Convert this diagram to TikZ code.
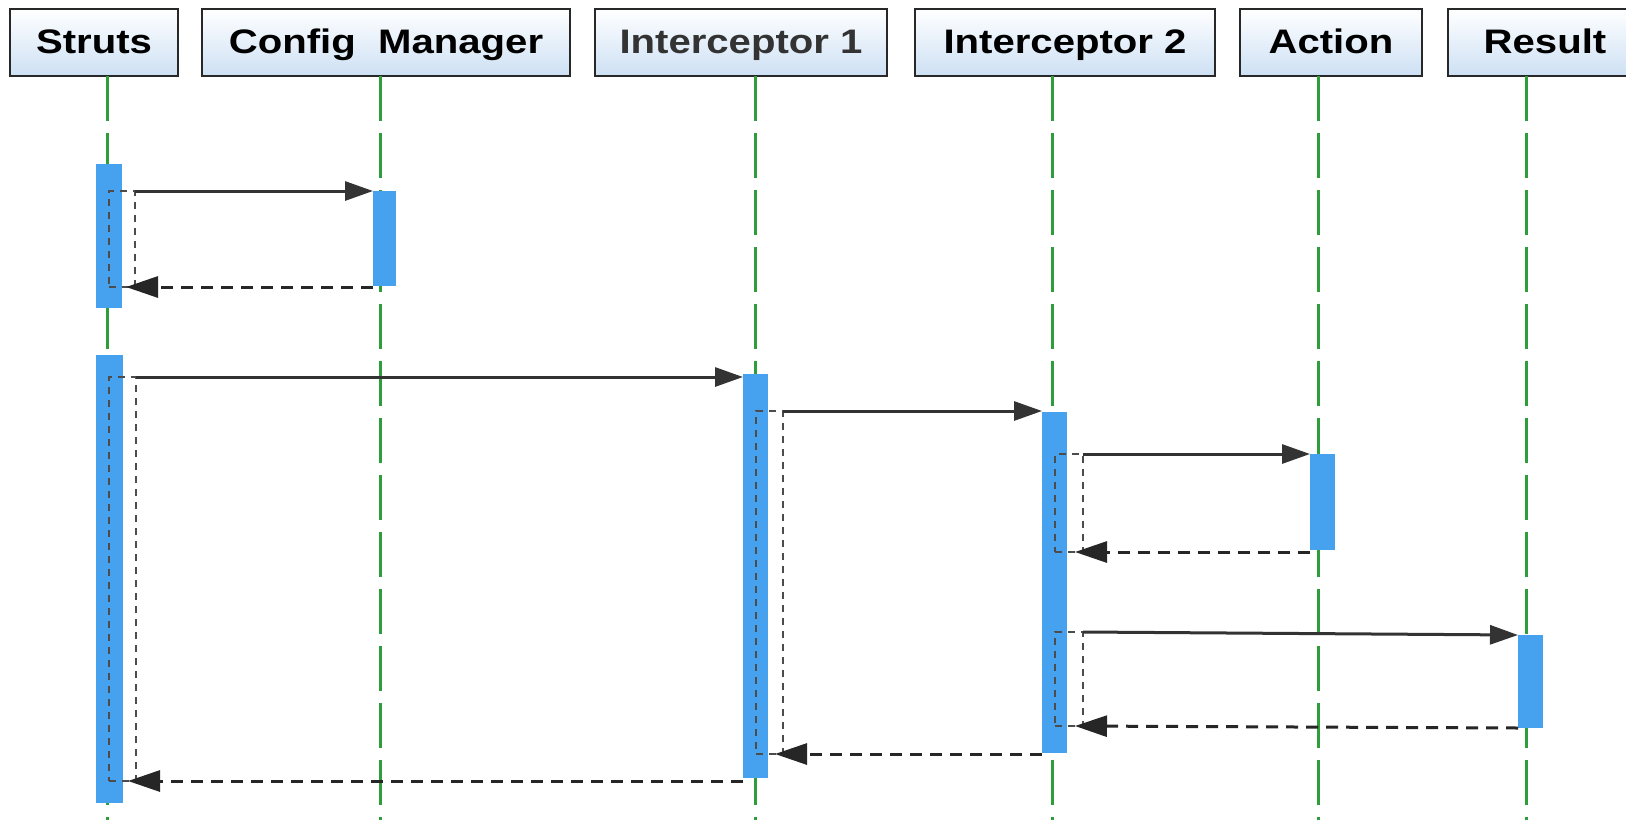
\documentclass[tikz,border=0pt]{standalone}
\usepackage{fontspec}
\setmainfont{Liberation Sans}
\usetikzlibrary{arrows.meta,calc}
\definecolor{barblue}{RGB}{70,162,238}
\definecolor{lifegreen}{RGB}{46,158,58}
\definecolor{hdrblue}{RGB}{205,224,244}
\definecolor{edgegray}{RGB}{40,40,40}
\newcommand{\hdrtxt}[1]{\scalebox{1.18}[1]{#1}}
\begin{document}
\begin{tikzpicture}[x=1pt,y=-1pt,
  hdr/.style={draw=edgegray, line width=2.5pt, top color=white, bottom color=hdrblue,
    minimum height=67pt, inner sep=0pt, outer sep=0pt, text height=25pt, text depth=4pt,
    font=\fontsize{34}{40}\selectfont\bfseries},
  bar/.style={fill=barblue, draw=none, inner sep=0pt, outer sep=0pt},
  framebox/.style={draw=black!70, line width=2.6pt, dash pattern=on 7pt off 6pt, inner sep=0pt, outer sep=0pt},
  lifeline/.style={draw=lifegreen, line width=3pt, dash pattern=on 45pt off 12pt},
  call/.style={draw=black!80, line width=3pt, -{Triangle[length=28pt,width=19pt]}},
  reply/.style={draw=black!85, line width=3pt, dash pattern=on 12pt off 8pt, -{Triangle[length=32pt,width=21pt]}},
]
\useasboundingbox (0,0) rectangle (1626,820);
\clip (0,0) rectangle (1626,820);
\fill[white] (0,0) rectangle (1626,820);

% headers
\node[hdr, minimum width=168pt] (hS)  at (94,42.5)   {\hdrtxt{Struts}};
\node[hdr, minimum width=368pt] (hC)  at (386,42.5)  {\hdrtxt{Config\ \ Manager}};
\node[hdr, minimum width=292pt] (hI1) at (741,42.5)  {\color{black!80}\hdrtxt{Interceptor 1}};
\node[hdr, minimum width=300pt] (hI2) at (1065,42.5) {\hdrtxt{Interceptor 2}};
\node[hdr, minimum width=182pt] (hA)  at (1331,42.5) {\hdrtxt{Action}};
\node[hdr, minimum width=194pt] (hR)  at (1545,42.5) {\hdrtxt{Result}};

% lifelines
\coordinate (eS)  at (107,820);
\coordinate (eC)  at (380,820);
\coordinate (eI1) at (755,820);
\coordinate (eI2) at (1052,820);
\coordinate (eA)  at (1318,820);
\coordinate (eR)  at (1526,820);
\draw[lifeline] (hS.south -| eS) -- (eS);
\draw[lifeline] (hC.south -| eC) -- (eC);
\draw[lifeline] (hI1.south -| eI1) -- (eI1);
\draw[lifeline] (hI2.south -| eI2) -- (eI2);
\draw[lifeline] (hA.south -| eA) -- (eA);
\draw[lifeline] (hR.south -| eR) -- (eR);

% activation bars
\node[bar, minimum width=26pt, minimum height=144pt] (sb1) at (109,236) {};
\node[bar, minimum width=23pt, minimum height=95pt]  (cb)  at (384.5,238.5) {};
\node[bar, minimum width=27pt, minimum height=448pt] (sb2) at (109.5,579) {};
\node[bar, minimum width=25pt, minimum height=404pt] (i1b) at (755.5,576) {};
\node[bar, minimum width=25pt, minimum height=341pt] (i2b) at (1054.5,582.5) {};
\node[bar, minimum width=25pt, minimum height=96pt]  (ab)  at (1322.5,502) {};
\node[bar, minimum width=25pt, minimum height=93pt]  (rb)  at (1530.5,681.5) {};

% dashed frames
\node[framebox, minimum width=26pt, minimum height=96pt]  (fS1)  at (122,239) {};
\node[framebox, minimum width=27pt, minimum height=404pt] (fS2)  at (122.5,579) {};
\node[framebox, minimum width=27pt, minimum height=343pt] (fI1)  at (769.5,582.5) {};
\node[framebox, minimum width=28pt, minimum height=98pt]  (fI2a) at (1069,503) {};
\node[framebox, minimum width=28pt, minimum height=94pt]  (fI2b) at (1069,679) {};

% calls
\draw[call] (fS1.north east) -- (fS1.north east -| cb.west);
\draw[call] (fS2.north east) -- (fS2.north east -| i1b.west);
\draw[call] (fI1.north east) -- (fI1.north east -| i2b.west);
\draw[call] (fI2a.north east) -- (fI2a.north east -| ab.west);
\draw[call] (fI2b.north east) -- (rb.north west);

% replies
\draw[reply] (cb.south west |- fS1.south) -- ($(fS1.south east)+(-9,0)$);
\draw[reply] (ab.south west |- fI2a.south) -- ($(fI2a.south east)+(-8,0)$);
\draw[reply] (rb.south west) -- ($(fI2b.south east)+(-8,0)$);
\draw[reply] (i2b.south west |- fI1.south) -- ($(fI1.south east)+(-8,0)$);
\draw[reply] (i1b.south west |- fS2.south) -- ($(fS2.south east)+(-8,0)$);
\end{tikzpicture}
\end{document}
